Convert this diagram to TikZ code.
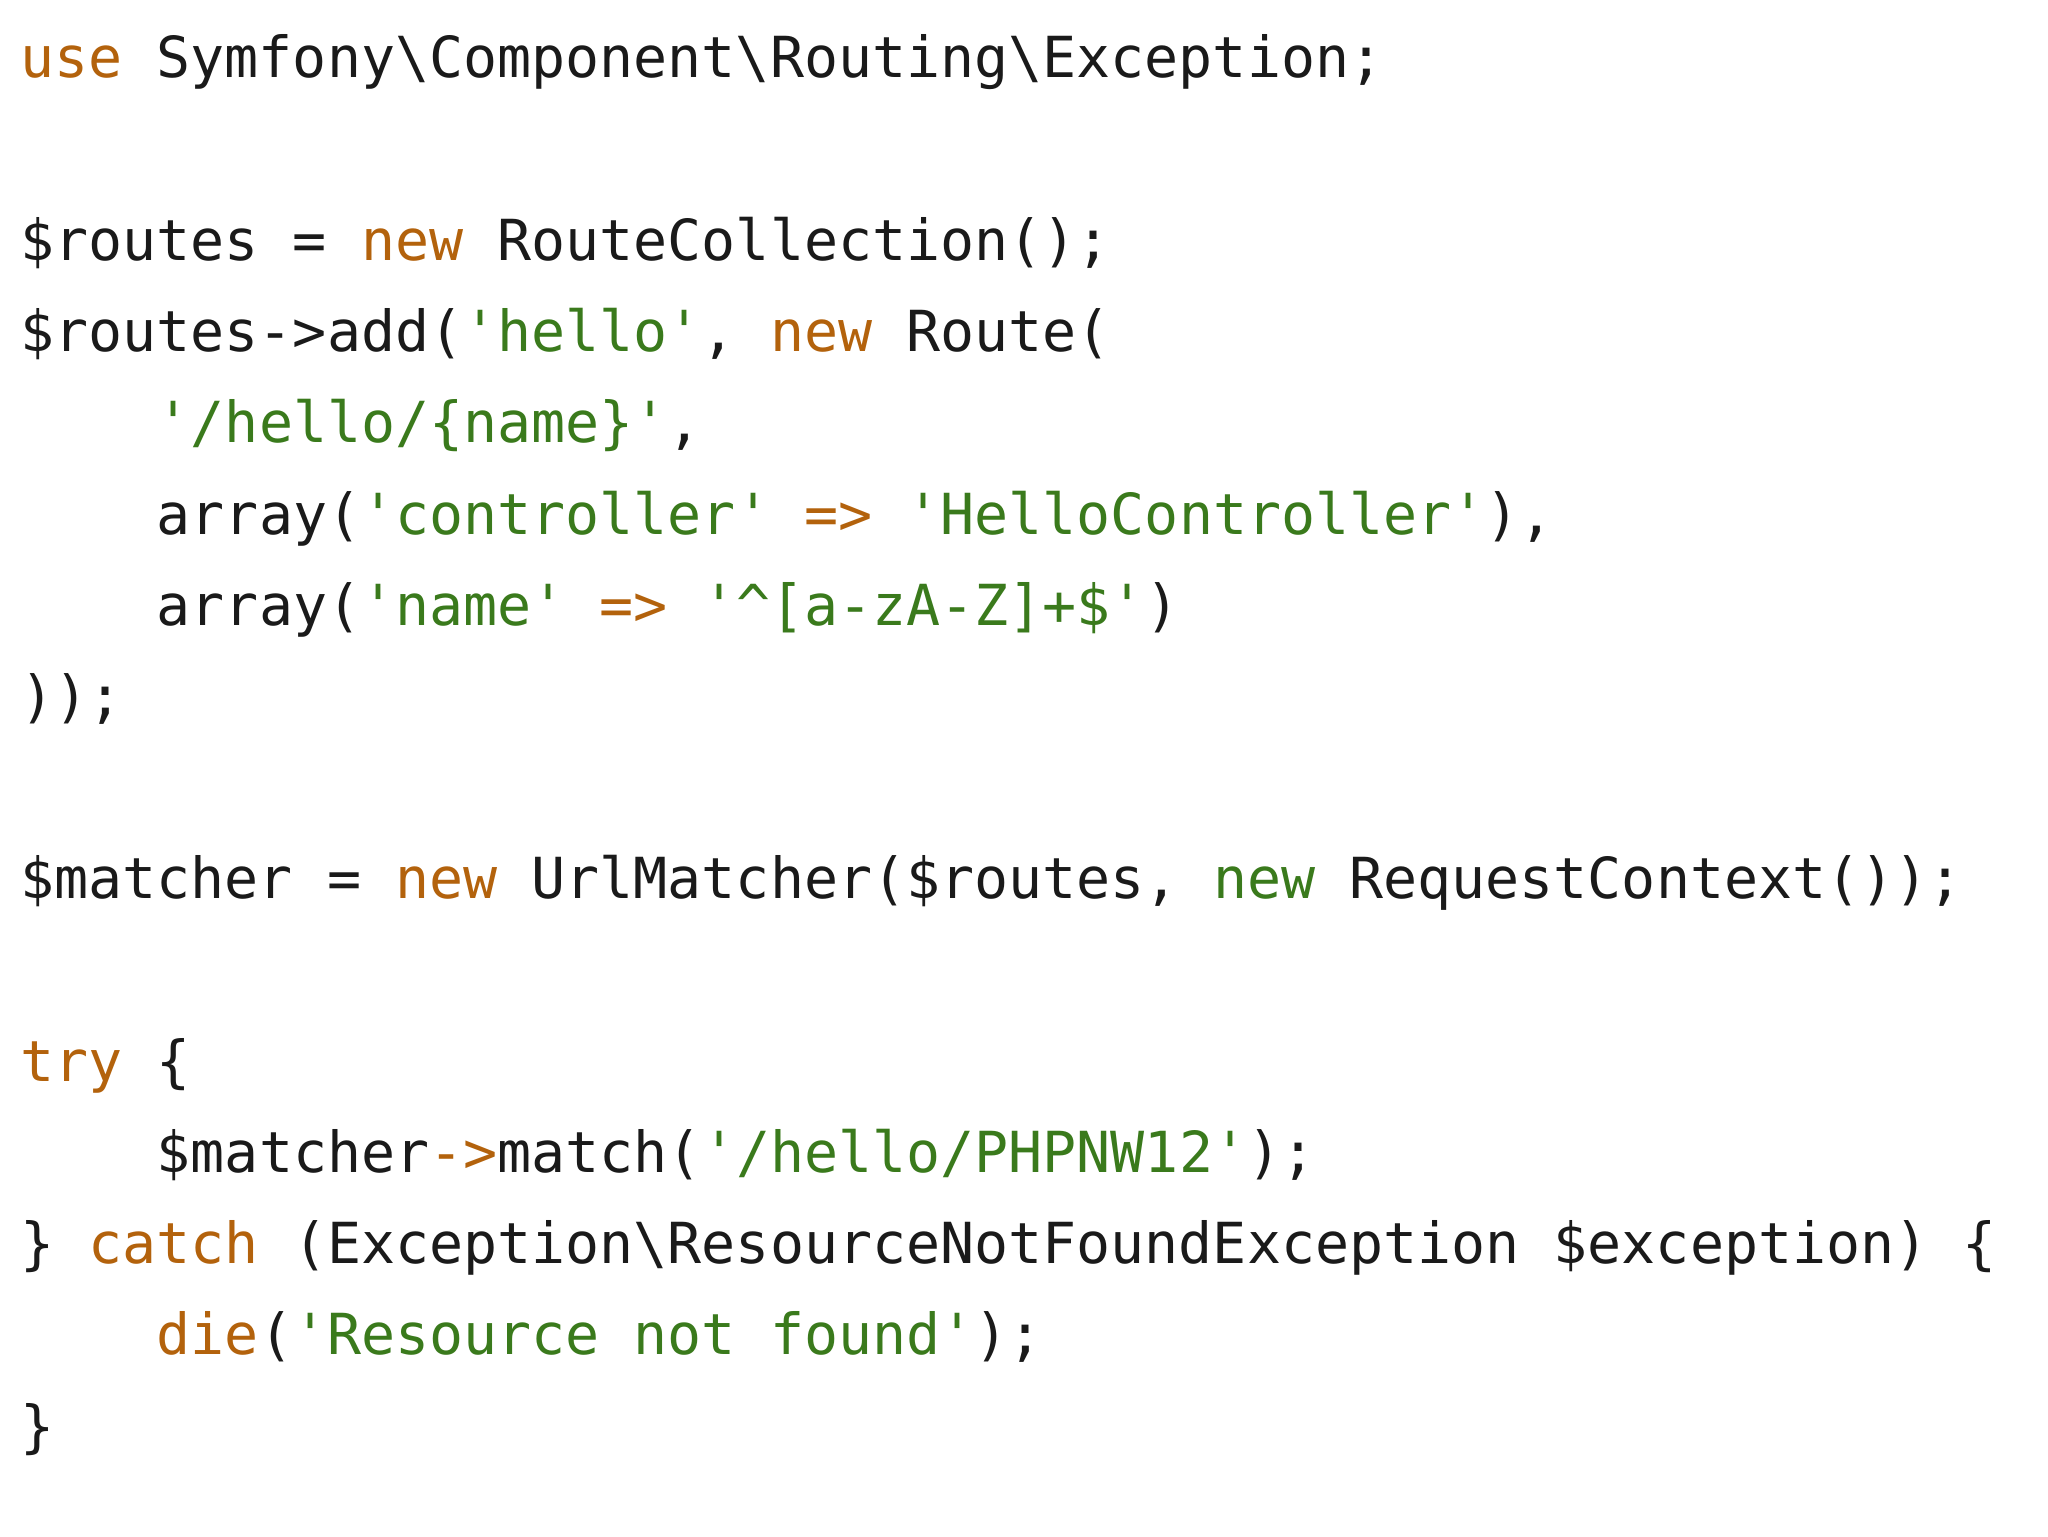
\documentclass[tikz,border=0pt]{standalone}
\usepackage{fontspec}
\setmonofont{DejaVu Sans Mono}
\definecolor{kw}{HTML}{B3620C}
\definecolor{st}{HTML}{3A7A1C}
\definecolor{tx}{HTML}{1A1A1A}
\newcommand{\Kw}[1]{\textcolor{kw}{#1}}
\newcommand{\Sg}[1]{\textcolor{st}{#1}}
\newcommand{\bs}{\textbackslash}
\tikzset{code/.style={anchor=base west,inner sep=0pt,font=\ttfamily\fontsize{28.3pt}{34pt}\selectfont,text=tx}}
\begin{document}
\begin{tikzpicture}[x=1pt,y=1pt]
\useasboundingbox[fill=white] (0,0) rectangle (1024,-768);
\def\lh{45.6}
\def\by{39}
\def\ind{68.2}
\node[code] (l0) at (10,{-\by-0*\lh}) {\Kw{use} Symfony\bs Component\bs Routing\bs Exception;};
\node[code] (l2) at (10,{-\by-2*\lh}) {\$routes = \Kw{new} RouteCollection();};
\node[code] (l3) at (10,{-\by-3*\lh}) {\$routes->add(\Sg{'hello'}, \Kw{new} Route(};
\node[code] (l4) at ({10+\ind},{-\by-4*\lh}) {\Sg{'/hello/\{name\}'},};
\node[code] (l5) at ({10+\ind},{-\by-5*\lh}) {array(\Sg{'controller'} \Kw{=>} \Sg{'HelloController'}),};
\node[code] (l6) at ({10+\ind},{-\by-6*\lh}) {array(\Sg{'name'} \Kw{=>} \Sg{'\textasciicircum[a-zA-Z]+\$'})};
\node[code] (l7) at (10,{-\by-7*\lh}) {));};
\node[code] (l9) at (10,{-\by-9*\lh}) {\$matcher = \Kw{new} UrlMatcher(\$routes, \Sg{new} RequestContext());};
\node[code] (l11) at (10,{-\by-11*\lh}) {\Kw{try} \{};
\node[code] (l12) at ({10+\ind},{-\by-12*\lh}) {\$matcher\Kw{->}match(\Sg{'/hello/PHPNW12'});};
\node[code] (l13) at (10,{-\by-13*\lh}) {\} \Kw{catch} (Exception\bs ResourceNotFoundException \$exception) \{};
\node[code] (l14) at ({10+\ind},{-\by-14*\lh}) {\Kw{die}(\Sg{'Resource not found'});};
\node[code] (l15) at (10,{-\by-15*\lh}) {\}};
\end{tikzpicture}
\end{document}
